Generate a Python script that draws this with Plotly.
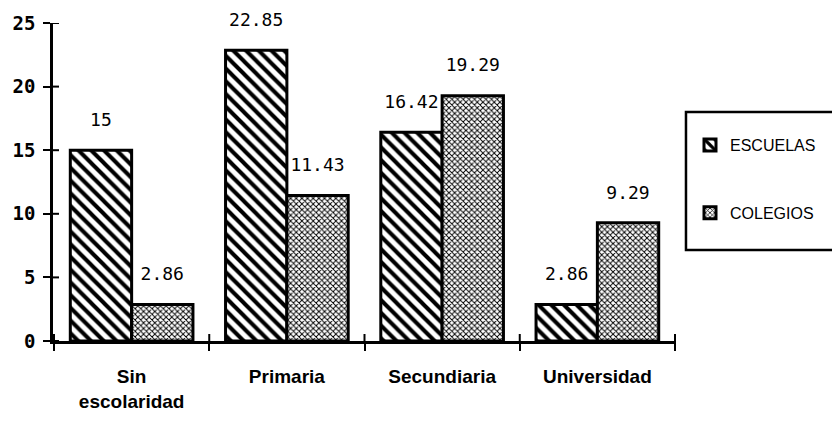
import plotly.graph_objects as go

# Nivel de escolaridad de los padres, por tipo de centro (%)
categorias = ["Sin<br>escolaridad", "Primaria", "Secundiaria", "Universidad"]
escuelas = [15, 22.85, 16.42, 2.86]
colegios = [2.86, 11.43, 19.29, 9.29]
etiquetas_escuelas = ["15", "22.85", "16.42", "2.86"]
etiquetas_colegios = ["2.86", "11.43", "19.29", "9.29"]
ticks_y = [0, 5, 10, 15, 20, 25]

W, H = 832, 423
L, R, T, B = 53, 155, 23, 82
GAP = 0.21

num_font = dict(family="DejaVu Sans Mono", size=18, color="black")
lab_font = dict(family="Liberation Sans, Arial, sans-serif",
                size=19, color="black", weight="bold")

fig = go.Figure()

fig.add_trace(go.Bar(
    name="ESCUELAS", x=categorias, y=escuelas, offsetgroup="e",
    legendgroup="e",
    marker=dict(color="white",
                line=dict(color="black", width=3),
                pattern=dict(shape="\\", size=9, solidity=0.45,
                             fgcolor="black", bgcolor="white",
                             fgopacity=1)),
))
fig.add_trace(go.Bar(
    name="COLEGIOS", x=categorias, y=colegios, offsetgroup="c",
    legendgroup="c",
    marker=dict(color="white",
                line=dict(color="black", width=3),
                pattern=dict(shape="x", size=4, solidity=0.42,
                             fgcolor="black", bgcolor="white",
                             fgopacity=1)),
))

# value labels, lifted above each bar by an invisible marker
for vals, txt, grp in [(escuelas, etiquetas_escuelas, "e"),
                       (colegios, etiquetas_colegios, "c")]:
    fig.add_trace(go.Scatter(
        x=categorias, y=vals, text=txt, mode="markers+text",
        offsetgroup=grp, textposition="top center",
        marker=dict(size=30, color="rgba(0,0,0,0)"),
        textfont=num_font, showlegend=False, hoverinfo="skip",
        cliponaxis=False,
    ))

# inner half of the tick marks, so each tick crosses its axis line
for v in ticks_y:
    fig.add_shape(type="line", xref="paper", yref="y",
                  xsizemode="pixel", xanchor=0, x0=0, x1=6, y0=v, y1=v,
                  line=dict(color="black", width=2))
for k in range(len(categorias) + 1):
    fig.add_shape(type="line", xref="x", yref="paper",
                  ysizemode="pixel", yanchor=0, y0=0, y1=7,
                  x0=k - 0.5, x1=k - 0.5,
                  line=dict(color="black", width=2))

# legend frame
px = lambda p: (p - L) / (W - L - R)
py = lambda p: (H - B - p) / (H - T - B)
fig.add_shape(type="rect", xref="paper", yref="paper",
              x0=px(687), x1=px(850), y0=py(250), y1=py(112),
              line=dict(color="black", width=2.5), fillcolor="rgba(0,0,0,0)")

fig.update_layout(
    width=W, height=H,
    margin=dict(l=L, r=R, t=T, b=B, pad=0),
    plot_bgcolor="white", paper_bgcolor="white",
    barmode="group", bargap=GAP, bargroupgap=0,
    scattermode="group", scattergap=GAP,
    showlegend=True,
    legend=dict(x=px(690), y=py(128), xanchor="left", yanchor="top",
                font=dict(family="Liberation Sans, Arial, sans-serif",
                          size=16, color="black"),
                tracegroupgap=44, bgcolor="rgba(0,0,0,0)", borderwidth=0,
                itemclick=False),
    xaxis=dict(type="category", tickson="boundaries", ticks="outside",
               ticklen=7, tickwidth=2, tickcolor="black",
               ticklabelstandoff=16,
               showline=True, linecolor="black", linewidth=3,
               showgrid=False, tickfont=lab_font, zeroline=False),
    yaxis=dict(range=[0, 25], tickvals=ticks_y, ticks="outside",
               ticklen=7, tickwidth=2, tickcolor="black",
               ticklabelstandoff=4,
               showline=True, linecolor="black", linewidth=2.5,
               showgrid=False, zeroline=False,
               tickfont=dict(family="DejaVu Sans Mono", size=19,
                             color="black", weight="bold")),
)

fig.write_html("out.html")
